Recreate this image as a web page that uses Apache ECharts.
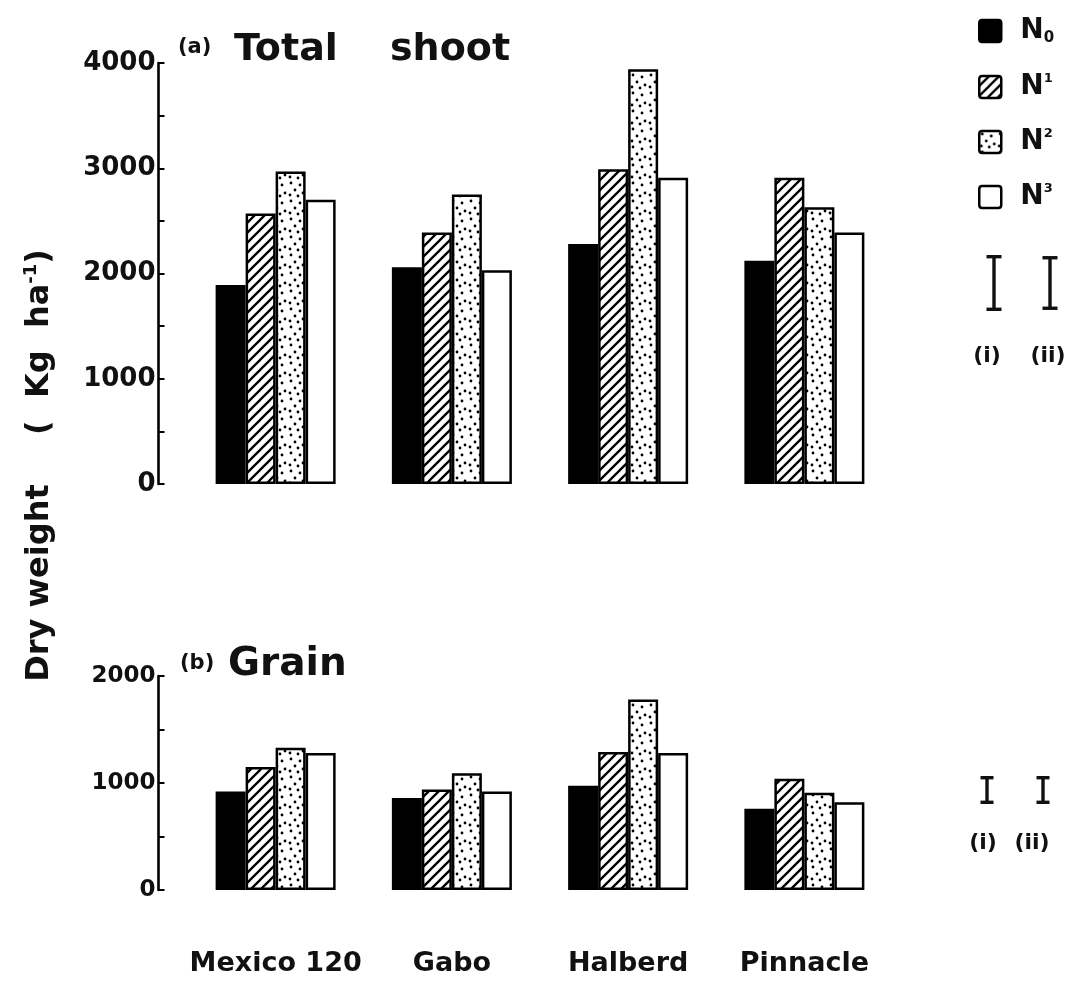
<!DOCTYPE html>
<html>
<head>
<meta charset="utf-8">
<script src="https://cdn.jsdelivr.net/npm/echarts@6/dist/echarts.min.js"></script>
<style>html,body{margin:0;padding:0;background:#fff}#c{width:1085px;height:983px}</style>
</head>
<body>
<div id="c"></div>
<script>
const categories = ['Mexico 120', 'Gabo', 'Halberd', 'Pinnacle'];
const seriesNames = ['N0', 'N1', 'N2', 'N3'];
// (a) Total shoot, kg/ha
const shootN0 = [1890, 2060, 2280, 2120];
const shootN1 = [2570, 2390, 2990, 2910];
const shootN2 = [2970, 2750, 3940, 2630];
const shootN3 = [2700, 2030, 2910, 2390];
// (b) Grain, kg/ha
const grainN0 = [920, 860, 975, 760];
const grainN1 = [1150, 940, 1290, 1040];
const grainN2 = [1330, 1090, 1780, 910];
const grainN3 = [1280, 920, 1280, 820];
// LSD bars (i), (ii)
const shootLSD = [500, 480];
const grainLSD = [230, 230];
const lsdLabels = ['(i)', '(ii)'];
const shootTicks = [0, 4000, 1000];
const grainTicks = [0, 2000, 1000];

const FONT = 'DejaVu Sans';

function makeHatch() {
  const c = document.createElement('canvas');
  c.width = 10; c.height = 10;
  const g = c.getContext('2d');
  g.fillStyle = '#fff'; g.fillRect(0, 0, 10, 10);
  g.strokeStyle = '#000'; g.lineWidth = 2.3; g.lineCap = 'square';
  g.beginPath();
  g.moveTo(-2, 12); g.lineTo(12, -2);
  g.moveTo(-7, 7); g.lineTo(7, -7);
  g.moveTo(3, 17); g.lineTo(17, 3);
  g.stroke();
  return c;
}
function makeDots() {
  const c = document.createElement('canvas');
  c.width = 18; c.height = 18;
  const g = c.getContext('2d');
  g.fillStyle = '#fff'; g.fillRect(0, 0, 18, 18);
  g.fillStyle = '#000';
  const pts = [[3, 3], [12, 5], [7, 10], [15, 13], [2, 15], [10, 16]];
  pts.forEach(p => { g.beginPath(); g.arc(p[0], p[1], 1.4, 0, Math.PI * 2); g.fill(); });
  return c;
}
const fills = [
  '#000',
  { image: makeHatch(), repeat: 'repeat' },
  { image: makeDots(), repeat: 'repeat' },
  '#fff'
];

const shootData = [shootN0, shootN1, shootN2, shootN3];
const grainData = [grainN0, grainN1, grainN2, grainN3];

const chart = echarts.init(document.getElementById('c'));

function yAx(idx, ticks, fs) {
  return {
    type: 'value', gridIndex: idx, min: ticks[0], max: ticks[1], interval: ticks[2],
    offset: 29,
    axisLine: { show: true, lineStyle: { color: '#000', width: 2.6 } },
    axisTick: { show: true, inside: true, length: 6, lineStyle: { color: '#000', width: 2 } },
    minorTick: { show: true, splitNumber: 2, length: 6, lineStyle: { color: '#000', width: 2 } },
    splitLine: { show: false },
    axisLabel: { color: '#111', fontFamily: FONT, fontWeight: 'bold', fontSize: fs, margin: 3, formatter: v => String(v) }
  };
}
function xAx(idx, showLabel) {
  return {
    type: 'category', gridIndex: idx, data: categories,
    axisLine: { show: false }, axisTick: { show: false },
    axisLabel: { show: showLabel, interval: 0, hideOverlap: false, color: '#111', fontFamily: FONT, fontWeight: 'bold', fontSize: 27, margin: 60 }
  };
}

const series = [];
seriesNames.forEach((n, i) => {
  const st = { color: fills[i], borderColor: '#000', borderWidth: 2.5 };
  series.push({ name: n, type: 'bar', xAxisIndex: 0, yAxisIndex: 0, data: shootData[i], barWidth: 30, barGap: '0%', itemStyle: st, silent: true });
  series.push({ name: n, type: 'bar', xAxisIndex: 1, yAxisIndex: 1, data: grainData[i], barWidth: 30, barGap: '0%', itemStyle: st, silent: true });
});

chart.setOption({
  animation: false,
  backgroundColor: '#fff',
  grid: [
    { left: 187.5, width: 705, top: 63, height: 421 },
    { left: 187.5, width: 705, top: 676, height: 214 }
  ],
  xAxis: [xAx(0, false), xAx(1, true)],
  yAxis: [yAx(0, shootTicks, 26), yAx(1, grainTicks, 23)],
  legend: {
    orient: 'vertical', left: 973, top: 12, itemWidth: 22, itemHeight: 22, itemGap: 26,
    icon: 'path://M3,0 L19,0 Q22,0 22,3 L22,19 Q22,22 19,22 L3,22 Q0,22 0,19 L0,3 Q0,0 3,0 Z',
    data: seriesNames,
    itemStyle: { borderColor: '#000', borderWidth: 2.5 },
    formatter: function (n) {
      const d = n.slice(1);
      return d === '0' ? '{n|N}{sub|' + d + '}' : '{n|N}{sup|' + d + '}';
    },
    textStyle: {
      rich: {
        n: { fontFamily: FONT, fontWeight: 'bold', fontSize: 28, color: '#111', lineHeight: 30, padding: [0, 0, 0, 14] },
        sub: { fontFamily: FONT, fontWeight: 'bold', fontSize: 15, color: '#111', verticalAlign: 'bottom', lineHeight: 16 },
        sup: { fontFamily: FONT, fontWeight: 'bold', fontSize: 13, color: '#111', verticalAlign: 'top', lineHeight: 14 }
      }
    }
  },
  series: series
});

function lsdGraphics(axisIdx, vals, cx, cy, capW, labelY, labelXs, fs) {
  const els = [];
  vals.forEach((v, i) => {
    const h = Math.abs(chart.convertToPixel({ yAxisIndex: axisIdx }, 0) - chart.convertToPixel({ yAxisIndex: axisIdx }, v));
    const x = cx[i];
    const y0 = cy - h / 2, y1 = cy + h / 2;
    const ls = { stroke: '#111', lineWidth: 3.4 };
    els.push({ type: 'line', shape: { x1: x, y1: y0, x2: x, y2: y1 }, style: ls });
    els.push({ type: 'line', shape: { x1: x - capW / 2, y1: y0, x2: x + capW / 2, y2: y0 }, style: ls });
    els.push({ type: 'line', shape: { x1: x - capW / 2, y1: y1, x2: x + capW / 2, y2: y1 }, style: ls });
    els.push({ type: 'text', x: labelXs[i], y: labelY, style: { text: lsdLabels[i], font: 'bold ' + fs + 'px "' + FONT + '"', fill: '#111', textAlign: 'center', textVerticalAlign: 'middle' } });
  });
  return els;
}

const tf = (s) => 'bold ' + s + 'px "' + FONT + '"';
const graphics = [
  { type: 'text', x: 178, y: 48, style: { text: '(a)', font: tf(21), fill: '#111', textVerticalAlign: 'middle' } },
  { type: 'text', x: 234, y: 50, style: { text: 'Total', font: tf(38), fill: '#111', textVerticalAlign: 'middle' } },
  { type: 'text', x: 390, y: 50, style: { text: 'shoot', font: tf(38), fill: '#111', textVerticalAlign: 'middle' } },
  { type: 'text', x: 180, y: 664, style: { text: '(b)', font: tf(21), fill: '#111', textVerticalAlign: 'middle' } },
  { type: 'text', x: 228, y: 665, style: { text: 'Grain', font: tf(39), fill: '#111', textVerticalAlign: 'middle' } },
  {
    type: 'text', x: 40, y: 583, rotation: Math.PI / 2,
    style: { text: 'Dry weight', font: tf(32), fill: '#111', align: 'center', verticalAlign: 'middle' }
  },
  {
    type: 'text', x: 40, y: 342, rotation: Math.PI / 2,
    style: {
      text: '{t|(  Kg  ha}{s|-1}{t|)}', align: 'center', verticalAlign: 'middle',
      rich: {
        t: { fontFamily: FONT, fontWeight: 'bold', fontSize: 32, fill: '#111', lineHeight: 36 },
        s: { fontFamily: FONT, fontWeight: 'bold', fontSize: 18, fill: '#111', verticalAlign: 'top', lineHeight: 18 }
      }
    }
  }
].concat(
  lsdGraphics(0, shootLSD, [994, 1050], 283, 15, 356, [987, 1048], 22),
  lsdGraphics(1, grainLSD, [987, 1043], 790, 13, 843, [983, 1032], 22)
);
chart.setOption({ graphic: graphics });
</script>
</body>
</html>
